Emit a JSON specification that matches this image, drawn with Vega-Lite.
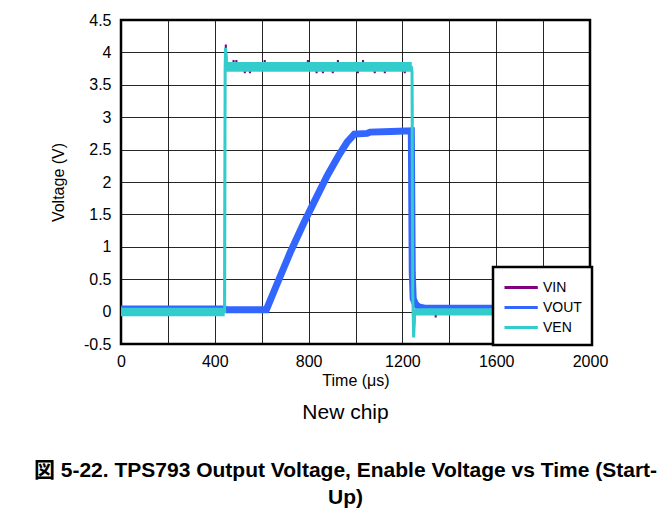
{
  "$schema": "https://vega.github.io/schema/vega-lite/v6.json",
  "width": 469,
  "height": 324,
  "autosize": {"type": "none"},
  "padding": {"left": 121, "top": 20, "right": 73, "bottom": 175},
  "background": "white",
  "config": {
    "font": "Liberation Sans, Arial, Noto Sans CJK JP",
    "view": {"stroke": "black", "strokeWidth": 2.5},
    "axis": {
      "grid": true,
      "gridColor": "#000",
      "gridWidth": 1,
      "gridOpacity": 0.85,
      "domain": false,
      "ticks": false,
      "labelFontSize": 16,
      "labelColor": "black",
      "labelOverlap": false,
      "labelFlush": false,
      "labelBound": false,
      "titleFontSize": 16,
      "titleFontWeight": "normal",
      "titleColor": "black"
    },
    "axisY": {"labelOverlap": false},
    "axisQuantitative": {"labelOverlap": false},
    "legend": {"strokeWidth": 2.5}
  },
  "title": {
    "text": "New chip",
    "subtitle": ["図 5-22. TPS793 Output Voltage, Enable Voltage vs Time (Start-", "Up)"],
    "orient": "bottom",
    "anchor": "middle",
    "dx": -10,
    "fontSize": 21,
    "fontWeight": "normal",
    "color": "black",
    "subtitleFontSize": 21,
    "subtitleFontWeight": "bold",
    "subtitleColor": "black",
    "subtitleLineHeight": 27,
    "subtitlePadding": 37,
    "offset": 14
  },
  "datasets": {
    "lines": [
      {"t": 0, "v": 0.01, "s": "VIN"}, {"t": 150, "v": 0.0, "s": "VIN"}, {"t": 300, "v": 0.01, "s": "VIN"}, {"t": 442, "v": 0.0, "s": "VIN"},
      {"t": 444, "v": 3.75, "s": "VIN"}, {"t": 447, "v": 4.12, "s": "VIN"}, {"t": 450, "v": 3.8, "s": "VIN"}, {"t": 455, "v": 3.77, "s": "VIN"},
      {"t": 478, "v": 3.77, "s": "VIN"}, {"t": 480, "v": 3.88, "s": "VIN"}, {"t": 482, "v": 3.77, "s": "VIN"},
      {"t": 490, "v": 3.77, "s": "VIN"}, {"t": 492, "v": 3.88, "s": "VIN"}, {"t": 494, "v": 3.77, "s": "VIN"},
      {"t": 526, "v": 3.77, "s": "VIN"}, {"t": 528, "v": 3.68, "s": "VIN"}, {"t": 530, "v": 3.77, "s": "VIN"},
      {"t": 548, "v": 3.77, "s": "VIN"}, {"t": 550, "v": 3.68, "s": "VIN"}, {"t": 552, "v": 3.77, "s": "VIN"},
      {"t": 611, "v": 3.77, "s": "VIN"}, {"t": 613, "v": 3.88, "s": "VIN"}, {"t": 615, "v": 3.77, "s": "VIN"},
      {"t": 795, "v": 3.77, "s": "VIN"}, {"t": 797, "v": 3.88, "s": "VIN"}, {"t": 799, "v": 3.77, "s": "VIN"},
      {"t": 832, "v": 3.77, "s": "VIN"}, {"t": 834, "v": 3.68, "s": "VIN"}, {"t": 836, "v": 3.77, "s": "VIN"},
      {"t": 859, "v": 3.77, "s": "VIN"}, {"t": 861, "v": 3.68, "s": "VIN"}, {"t": 863, "v": 3.77, "s": "VIN"},
      {"t": 901, "v": 3.77, "s": "VIN"}, {"t": 903, "v": 3.68, "s": "VIN"}, {"t": 905, "v": 3.77, "s": "VIN"},
      {"t": 923, "v": 3.77, "s": "VIN"}, {"t": 925, "v": 3.88, "s": "VIN"}, {"t": 927, "v": 3.77, "s": "VIN"},
      {"t": 1008, "v": 3.77, "s": "VIN"}, {"t": 1010, "v": 3.68, "s": "VIN"}, {"t": 1012, "v": 3.77, "s": "VIN"},
      {"t": 1030, "v": 3.77, "s": "VIN"}, {"t": 1032, "v": 3.88, "s": "VIN"}, {"t": 1034, "v": 3.77, "s": "VIN"},
      {"t": 1080, "v": 3.77, "s": "VIN"}, {"t": 1082, "v": 3.68, "s": "VIN"}, {"t": 1084, "v": 3.77, "s": "VIN"},
      {"t": 1123, "v": 3.77, "s": "VIN"}, {"t": 1125, "v": 3.68, "s": "VIN"}, {"t": 1127, "v": 3.77, "s": "VIN"},
      {"t": 1208, "v": 3.77, "s": "VIN"}, {"t": 1210, "v": 3.68, "s": "VIN"}, {"t": 1212, "v": 3.77, "s": "VIN"},
      {"t": 1238, "v": 3.77, "s": "VIN"}, {"t": 1241, "v": 3.7, "s": "VIN"}, {"t": 1244, "v": 0.3, "s": "VIN"},
      {"t": 1248, "v": -0.35, "s": "VIN"}, {"t": 1252, "v": -0.05, "s": "VIN"}, {"t": 1260, "v": 0.0, "s": "VIN"},
      {"t": 1340, "v": 0.0, "s": "VIN"}, {"t": 1342, "v": -0.09, "s": "VIN"}, {"t": 1344, "v": 0.0, "s": "VIN"}, {"t": 2000, "v": 0.0, "s": "VIN"},

      {"t": 0, "v": 0.04, "s": "VOUT"}, {"t": 442, "v": 0.04, "s": "VOUT"}, {"t": 445, "v": 0.03, "s": "VOUT"}, {"t": 620, "v": 0.03, "s": "VOUT"},
      {"t": 660, "v": 0.38, "s": "VOUT"}, {"t": 720, "v": 0.9, "s": "VOUT"}, {"t": 780, "v": 1.37, "s": "VOUT"}, {"t": 830, "v": 1.74, "s": "VOUT"},
      {"t": 880, "v": 2.1, "s": "VOUT"}, {"t": 930, "v": 2.42, "s": "VOUT"}, {"t": 965, "v": 2.62, "s": "VOUT"}, {"t": 995, "v": 2.74, "s": "VOUT"},
      {"t": 1050, "v": 2.75, "s": "VOUT"},
      {"t": 1062, "v": 2.77, "s": "VOUT"}, {"t": 1150, "v": 2.78, "s": "VOUT"}, {"t": 1238, "v": 2.79, "s": "VOUT"}, {"t": 1242, "v": 0.6, "s": "VOUT"},
      {"t": 1246, "v": 0.2, "s": "VOUT"}, {"t": 1255, "v": 0.12, "s": "VOUT"}, {"t": 1270, "v": 0.07, "s": "VOUT"}, {"t": 1300, "v": 0.05, "s": "VOUT"},
      {"t": 2000, "v": 0.05, "s": "VOUT"},

      {"t": 0, "v": 0.0, "s": "VEN"}, {"t": 442, "v": 0.0, "s": "VEN"}, {"t": 444, "v": 3.75, "s": "VEN"}, {"t": 446, "v": 4.07, "s": "VEN"},
      {"t": 450, "v": 3.78, "s": "VEN"}, {"t": 455, "v": 3.77, "s": "VEN"}, {"t": 1238, "v": 3.77, "s": "VEN"}, {"t": 1241, "v": 3.7, "s": "VEN"},
      {"t": 1244, "v": 0.3, "s": "VEN"}, {"t": 1248, "v": -0.4, "s": "VEN"}, {"t": 1252, "v": -0.05, "s": "VEN"}, {"t": 1258, "v": 0.02, "s": "VEN"},
      {"t": 1265, "v": 0.0, "s": "VEN"}, {"t": 2000, "v": 0.0, "s": "VEN"}
    ],
    "bands": [
      {"t": 0, "lo": -0.07, "hi": 0.06, "seg": "a"}, {"t": 442, "lo": -0.07, "hi": 0.06, "seg": "a"},
      {"t": 448, "lo": 3.70, "hi": 3.85, "seg": "b"}, {"t": 1240, "lo": 3.70, "hi": 3.85, "seg": "b"},
      {"t": 1258, "lo": -0.06, "hi": 0.05, "seg": "c"}, {"t": 2000, "lo": -0.06, "hi": 0.05, "seg": "c"}
    ]
  },
  "encoding": {
    "x": {"field": "t", "type": "quantitative", "scale": {"domain": [0, 2000], "nice": false},
      "axis": {"values": [0, 200, 400, 600, 800, 1000, 1200, 1400, 1600, 1800, 2000], "labelOverlap": false,
        "labelExpr": "datum.value % 400 === 0 ? '' + datum.value : ''", "labelPadding": 9, "title": "Time (μs)", "titlePadding": 3}},
    "y": {"field": "v", "type": "quantitative", "scale": {"domain": [-0.5, 4.5], "nice": false},
      "axis": {"values": [-0.5, 0, 0.5, 1, 1.5, 2, 2.5, 3, 3.5, 4, 4.5], "tickCount": 11, "labelOverlap": false,
        "labelExpr": "datum.value === 0 ? '0' : '' + datum.value", "labelPadding": 10, "title": "Voltage (V)", "titlePadding": 17}}
  },
  "layer": [
    {
      "data": {"name": "lines"},
      "transform": [{"filter": "datum.s === 'VIN'"}],
      "mark": {"type": "line", "strokeWidth": 2},
      "encoding": {
        "color": {"field": "s", "type": "nominal",
          "scale": {"domain": ["VIN", "VOUT", "VEN"], "range": ["#800080", "#3366FF", "#33CCCC"]},
          "legend": {"orient": "none", "legendX": 372, "legendY": 247, "title": null,
            "symbolType": "M-1,0H2.7", "symbolStrokeWidth": 3, "symbolSize": 324,
            "labelFontSize": 14, "labelColor": "black", "labelOffset": 19,
            "strokeColor": "black", "fillColor": "white", "padding": 10, "rowPadding": 2}},
        "order": {"field": "t", "type": "quantitative"}
      }
    },
    {
      "data": {"name": "lines"},
      "transform": [{"filter": "datum.s === 'VOUT'"}],
      "mark": {"type": "line", "strokeWidth": 7},
      "encoding": {
        "color": {"field": "s", "type": "nominal"},
        "order": {"field": "t", "type": "quantitative"}
      }
    },
    {
      "data": {"name": "bands"},
      "mark": {"type": "area", "color": "#33CCCC", "opacity": 1},
      "encoding": {
        "y": {"field": "lo", "type": "quantitative"},
        "y2": {"field": "hi"},
        "detail": {"field": "seg", "type": "nominal"}
      }
    },
    {
      "data": {"name": "lines"},
      "transform": [{"filter": "datum.s === 'VEN'"}],
      "mark": {"type": "line", "strokeWidth": 3},
      "encoding": {
        "color": {"field": "s", "type": "nominal"},
        "order": {"field": "t", "type": "quantitative"}
      }
    }
  ]
}
